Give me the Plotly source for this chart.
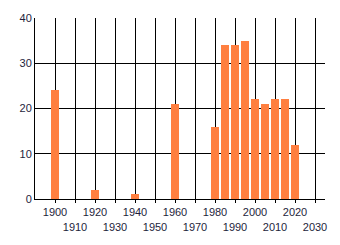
import plotly.graph_objects as go

years = [1900, 1920, 1940, 1960, 1980, 1985, 1990, 1995, 2000, 2005, 2010, 2015, 2020]
counts = [24, 2, 1, 21, 16, 34, 34, 35, 22, 21, 22, 22, 12]

tick_vals = list(range(1900, 2031, 10))
tick_text = [str(v) if (v // 10) % 2 == 0 else "<br>" + str(v) for v in tick_vals]
y_ticks = [0, 10, 20, 30, 40]

fig = go.Figure(go.Bar(x=years, y=counts, width=4, marker=dict(color="#FF7F40", line=dict(width=0))))

fig.update_layout(
    width=340, height=245,
    margin=dict(l=35, r=15, t=15, b=44),
    plot_bgcolor="white", paper_bgcolor="white",
    showlegend=False,
    font=dict(family="Liberation Sans, Arial", size=11, color="#1e1e3c"),
    bargap=0,
)
fig.update_xaxes(
    range=[1890, 2035], tickmode="array", tickvals=tick_vals, ticktext=tick_text,
    showgrid=True, gridcolor="black", gridwidth=1,
    showline=True, linecolor="black", linewidth=1,
    ticks="outside", ticklen=3, tickcolor="black", tickangle=0,
    zeroline=False,
)
fig.update_yaxes(
    range=[0, 40], tickmode="array", tickvals=y_ticks,
    showgrid=True, gridcolor="black", gridwidth=1,
    showline=True, linecolor="black", linewidth=1,
    ticks="", zeroline=False,
)

fig.write_html("out.html")
